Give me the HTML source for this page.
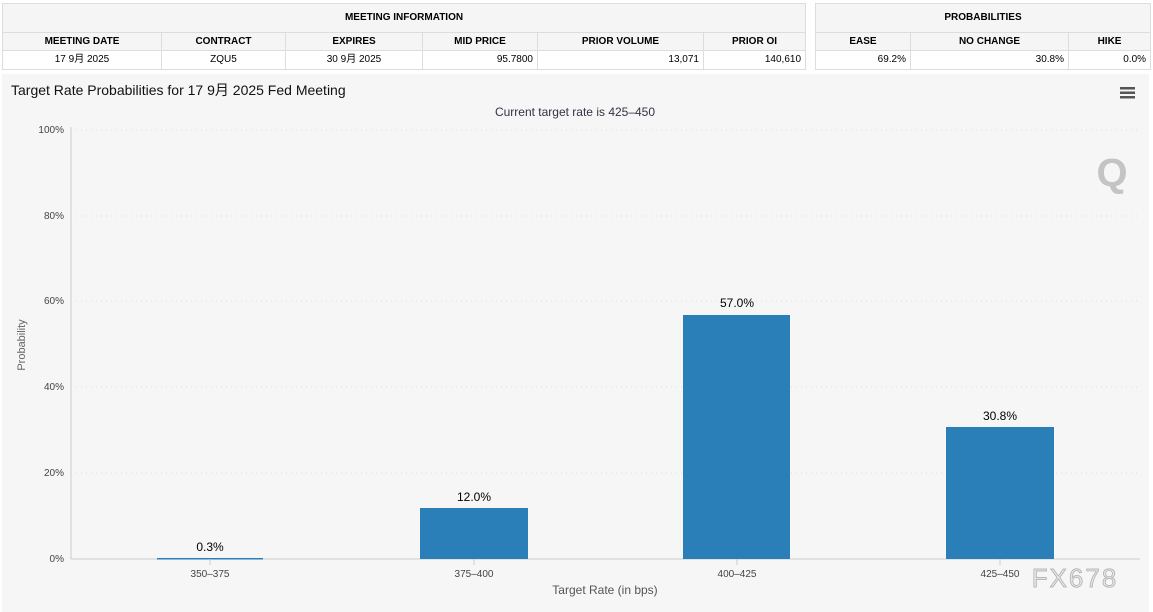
<!DOCTYPE html>
<html><head><meta charset="utf-8"><style>
body{margin:0;width:1153px;height:612px;background:#fff;font-family:"Liberation Sans","Noto Sans CJK SC",sans-serif;position:relative;overflow:hidden}
table{position:absolute;border-collapse:collapse;font-size:10px;color:#000;table-layout:fixed}
td{border:1px solid #ddd;padding:0 4px;height:18px;line-height:12px;text-align:center;overflow:hidden;white-space:nowrap}
tr.h td{background:#f5f5f5;font-weight:bold;height:17px}
tr.t td{height:28px}
td.r{text-align:right}
</style></head><body>
<table style="left:2px;top:3px;width:803px">
<colgroup><col style="width:159px"><col style="width:124px"><col style="width:137px"><col style="width:115px"><col style="width:166px"><col style="width:102px"></colgroup>
<tr class="h t"><td colspan="6">MEETING INFORMATION</td></tr>
<tr class="h"><td>MEETING DATE</td><td>CONTRACT</td><td>EXPIRES</td><td>MID PRICE</td><td>PRIOR VOLUME</td><td>PRIOR OI</td></tr>
<tr><td>17 9月 2025</td><td>ZQU5</td><td>30 9月 2025</td><td class="r">95.7800</td><td class="r">13,071</td><td class="r">140,610</td></tr>
</table>
<table style="left:815px;top:3px;width:335px">
<colgroup><col style="width:95px"><col style="width:158px"><col style="width:82px"></colgroup>
<tr class="h t"><td colspan="3">PROBABILITIES</td></tr>
<tr class="h"><td>EASE</td><td>NO CHANGE</td><td>HIKE</td></tr>
<tr><td class="r">69.2%</td><td class="r">30.8%</td><td class="r">0.0%</td></tr>
</table>
<svg style="position:absolute;left:0;top:0" width="1153" height="612" font-family="Liberation Sans,DejaVu Sans,sans-serif">
<rect x="2" y="74" width="1147" height="538" fill="#f6f6f6"/>
<text x="11" y="95" font-size="14" fill="#111">Target Rate Probabilities for 17 9月 2025 Fed Meeting</text>
<text x="575" y="116" font-size="12" fill="#334" text-anchor="middle">Current target rate is 425–450</text>
<g fill="#555"><rect x="1120" y="87" width="15" height="2.5"/><rect x="1120" y="91.5" width="15" height="2.5"/><rect x="1120" y="96" width="15" height="2.5"/></g>
<text x="1112" y="186" font-size="40" font-weight="bold" fill="#c4c4c4" text-anchor="middle">Q</text>
<g stroke="#ddd" stroke-dasharray="1,4">
<line x1="71" x2="1140" y1="130" y2="130"/><line x1="71" x2="1140" y1="216" y2="216"/><line x1="71" x2="1140" y1="301" y2="301"/><line x1="71" x2="1140" y1="387" y2="387"/><line x1="71" x2="1140" y1="473" y2="473"/>
</g>
<line x1="71" x2="71" y1="127" y2="559" stroke="#ccc"/>
<line x1="71" x2="1140" y1="559" y2="559" stroke="#ccc"/>
<g font-size="10" fill="#444" text-anchor="end">
<text x="64" y="133">100%</text><text x="64" y="219">80%</text><text x="64" y="304">60%</text><text x="64" y="390">40%</text><text x="64" y="476">20%</text><text x="64" y="562">0%</text>
</g>
<text transform="translate(25,345) rotate(-90)" font-size="11" fill="#666" text-anchor="middle">Probability</text>
<g fill="#2a7fb8">
<rect x="157" y="558" width="106" height="1.5"/>
<rect x="420" y="508" width="108" height="51"/>
<rect x="683" y="315" width="107" height="244"/>
<rect x="946" y="427" width="108" height="132"/>
</g>
<g font-size="12" fill="#000" text-anchor="middle">
<text x="210" y="551">0.3%</text><text x="474" y="501">12.0%</text><text x="737" y="307">57.0%</text><text x="1000" y="420">30.8%</text>
</g>
<g stroke="#ccc"><line x1="210" x2="210" y1="559" y2="565"/><line x1="474" x2="474" y1="559" y2="565"/><line x1="737" x2="737" y1="559" y2="565"/><line x1="1000" x2="1000" y1="559" y2="565"/></g>
<g font-size="10" fill="#444" text-anchor="middle">
<text x="210" y="577">350–375</text><text x="474" y="577">375–400</text><text x="737" y="577">400–425</text><text x="1000" y="577">425–450</text>
</g>
<text x="605" y="594" font-size="12" fill="#555" text-anchor="middle">Target Rate (in bps)</text>
<text x="1075" y="587" font-size="26" fill="#e4e4e4" stroke="#aaa" stroke-width="0.7" text-anchor="middle" letter-spacing="2">FX678</text>
</svg>
</body></html>
